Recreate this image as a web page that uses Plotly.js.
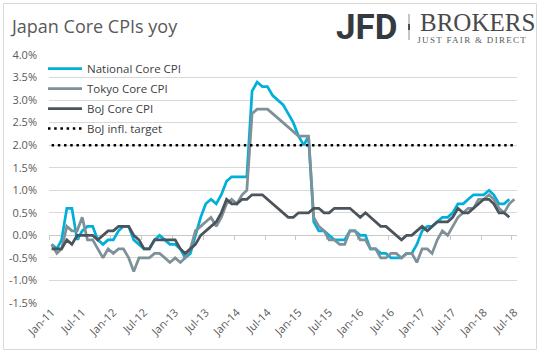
<!DOCTYPE html>
<html>
<head>
<meta charset="utf-8">
<script src="https://cdn.plot.ly/plotly-3.0.1.min.js"></script>
<style>
  html, body { margin: 0; padding: 0; background: #fff; }
  #chart { width: 543px; height: 352px; }
  g.annotation[data-index="3"] text { letter-spacing: 1.3px; }
</style>
</head>
<body>
<div id="chart"></div>
<script>
// ---- data (monthly, yoy %) ----
const firstMonth = { year: 2011, month: 1 };
const nationalCore = [
  -0.2, -0.3, -0.1, 0.6, 0.6, -0.1, 0.1, 0.2, 0.2, -0.1, -0.2, -0.1,
  -0.1, 0.1, 0.2, 0.2, -0.1, -0.2, -0.3, -0.3, -0.1, 0.0, -0.1, -0.2,
  -0.2, -0.3, -0.5, -0.4, 0.0, 0.4, 0.7, 0.8, 0.7, 0.9, 1.2, 1.3,
  1.3, 1.3, 1.3, 3.2, 3.4, 3.3, 3.3, 3.1, 3.0, 2.9, 2.7, 2.5,
  2.2, 2.0, 2.2, 0.3, 0.1, 0.1, 0.0, -0.1, -0.1, -0.1, 0.1, 0.1,
  0.0, 0.0, -0.3, -0.3, -0.4, -0.4, -0.5, -0.5, -0.5, -0.4, -0.4, -0.2,
  0.1, 0.2, 0.2, 0.3, 0.4, 0.4, 0.5, 0.7, 0.7, 0.8, 0.9, 0.9,
  0.9, 1.0, 0.9, 0.7, 0.7, 0.8
];
const tokyoCore = [
  -0.2, -0.4, -0.3, 0.2, 0.1, 0.1, 0.4, -0.1, -0.1, -0.3, -0.5, -0.3,
  -0.4, -0.3, -0.3, -0.5, -0.8, -0.5, -0.5, -0.5, -0.4, -0.4, -0.5, -0.6,
  -0.5, -0.6, -0.5, -0.3, 0.1, 0.2, 0.3, 0.4, 0.2, 0.4, 0.7, 0.8,
  0.7, 0.9, 1.0, 2.7, 2.8, 2.8, 2.8, 2.7, 2.6, 2.5, 2.4, 2.3,
  2.2, 2.2, 2.2, 0.4, 0.2, 0.1, -0.1, -0.1, -0.2, -0.2, 0.1, 0.1,
  -0.1, -0.1, -0.3, -0.3, -0.5, -0.5, -0.4, -0.4, -0.5, -0.4, -0.4, -0.6,
  -0.3, -0.3, -0.4, -0.1, 0.1, 0.0, 0.2, 0.4, 0.5, 0.6, 0.6, 0.8,
  0.8, 0.9, 0.8, 0.6, 0.5, 0.7, 0.8
];
const bojCore = [
  -0.3, -0.3, -0.3, -0.1, -0.2, 0.0, 0.0, 0.0, 0.0, -0.1, 0.0, 0.1,
  0.1, 0.2, 0.2, 0.2, 0.0, -0.1, -0.3, -0.3, -0.1, -0.1, -0.1, -0.1,
  -0.1, -0.3, -0.4, -0.3, -0.2, 0.0, 0.1, 0.2, 0.3, 0.5, 0.8, 0.7,
  0.7, 0.8, 0.8, 0.9, 0.9, 0.9, 0.8, 0.7, 0.6, 0.5, 0.4, 0.4,
  0.5, 0.5, 0.5, 0.6, 0.6, 0.5, 0.5, 0.6, 0.6, 0.6, 0.6, 0.5,
  0.4, 0.5, 0.4, 0.3, 0.2, 0.2, 0.1, 0.0, -0.1, 0.0, 0.0, 0.1,
  0.2, 0.1, 0.2, 0.3, 0.3, 0.3, 0.4, 0.6, 0.5, 0.5, 0.6, 0.7,
  0.8, 0.8, 0.7, 0.5, 0.5, 0.4
];
const bojTarget = [2.0, 2.0];
const seriesNames = ['National Core CPI', 'Tokyo Core CPI', 'BoJ Core CPI', 'BoJ infl. target'];
const xTickLabels = ['Jan-11','Jul-11','Jan-12','Jul-12','Jan-13','Jul-13','Jan-14','Jul-14',
                     'Jan-15','Jul-15','Jan-16','Jul-16','Jan-17','Jul-17','Jan-18','Jul-18'];
const yTickValues = [-1.5, -1.0, -0.5, 0.0, 0.5, 1.0, 1.5, 2.0, 2.5, 3.0, 3.5, 4.0];
const yTickLabels = ['-1.5%','-1.0%','-0.5%','0.0%','0.5%','1.0%','1.5%','2.0%','2.5%','3.0%','3.5%','4.0%'];

// ---- month dates ----
function monthDates(n) {
  const out = [];
  for (let k = 0; k < n; k++) {
    const y = firstMonth.year + Math.floor((firstMonth.month - 1 + k) / 12);
    const m = (firstMonth.month - 1 + k) % 12 + 1;
    out.push(y + '-' + String(m).padStart(2, '0') + '-01');
  }
  return out;
}
const months = monthDates(tokyoCore.length);
const xTickVals = xTickLabels.map((_, i) => months[i * 6]);
const xRange = ['2010-12-16 12:00', '2018-07-16 12:00'];

// ---- layout helpers (pixel -> paper) ----
const PL = 49, PR = 517, PT = 55, PB = 303;
const px = v => (v - PL) / (PR - PL);
const py = v => (PB - v) / (PB - PT);

const colors = { national: '#00AFDA', tokyo: '#7F9198', boj: '#4B535B' };

const traces = [
  { x: months.slice(0, nationalCore.length), y: nationalCore, name: seriesNames[0], legendgroup: 'a',
    type: 'scatter', mode: 'lines', line: { color: colors.national, width: 2.75 } },
  { x: months.slice(0, tokyoCore.length), y: tokyoCore, name: seriesNames[1], legendgroup: 'b',
    type: 'scatter', mode: 'lines', line: { color: colors.tokyo, width: 2.75 } },
  { x: months.slice(0, bojCore.length), y: bojCore, name: seriesNames[2], legendgroup: 'c',
    type: 'scatter', mode: 'lines', line: { color: colors.boj, width: 2.75 } },
  { x: [months[0], months[months.length - 1]], y: bojTarget, name: seriesNames[3], legendgroup: 'd',
    xaxis: 'x2', type: 'scatter', mode: 'lines', line: { color: '#000000', width: 2.5, dash: '2.5px,3.7px' } }
];

const layout = {
  width: 543, height: 352,
  margin: { l: PL, r: 543 - PR, t: PT, b: 352 - PB, autoexpand: false },
  paper_bgcolor: '#ffffff', plot_bgcolor: '#ffffff',
  font: { family: '"Open Sans", sans-serif', size: 11, color: '#595959' },
  title: {
    text: 'Japan Core CPIs yoy',
    font: { family: '"Open Sans", sans-serif', size: 18, color: '#595959' },
    xref: 'container', yref: 'container', x: 12 / 543, xanchor: 'left', y: 1 - 27 / 352, yanchor: 'middle'
  },
  showlegend: true,
  legend: {
    x: px(43), y: py(54), xanchor: 'left', yanchor: 'top', itemwidth: 34,
    bgcolor: 'rgba(0,0,0,0)', borderwidth: 0, tracegroupgap: 1,
    font: { family: '"Open Sans", sans-serif', size: 11.5, color: '#404040' }
  },
  xaxis: {
    type: 'date', range: xRange, tickmode: 'array', tickvals: xTickVals, ticktext: xTickLabels,
    tickangle: -45, showgrid: false, zeroline: false, showline: false, ticks: '',
    tickfont: { size: 11, color: '#595959' }, fixedrange: true
  },
  xaxis2: {
    type: 'date', range: xRange, overlaying: 'x', anchor: 'free', position: (0 - (-1.5)) / 5.5,
    showline: true, linecolor: '#C8C8C8', linewidth: 1, layer: 'below traces',
    ticks: 'outside', ticklen: 4, tickcolor: '#C8C8C8', tickwidth: 1,
    tick0: '2010-12-16 12:00', dtick: 'M6', showticklabels: false, showgrid: false, zeroline: false
  },
  yaxis: {
    range: [-1.5, 4.0], tickmode: 'array', tickvals: yTickValues, ticktext: yTickLabels,
    showgrid: true, gridcolor: '#D9D9D9', gridwidth: 1, zeroline: false, showline: false,
    ticks: '', ticklabelstandoff: 11, tickfont: { size: 11, color: '#595959' }, fixedrange: true
  },
  shapes: [
    { type: 'rect', xref: 'paper', yref: 'paper', x0: px(3.5), x1: px(536.5), y0: py(3.5), y1: py(349.5),
      line: { color: '#D9D9D9', width: 1 }, fillcolor: 'rgba(0,0,0,0)' },
    { type: 'line', xref: 'paper', yref: 'paper', x0: px(409), x1: px(409), y0: py(14), y1: py(40),
      line: { color: '#A0A0A0', width: 1.2 } },
    { type: 'line', xref: 'paper', yref: 'paper', x0: px(409), x1: px(409), y0: py(24), y1: py(30),
      line: { color: '#505050', width: 2 } }
  ],
  annotations: [
    { text: '<b>JFD</b>', xref: 'paper', yref: 'paper', x: px(400), y: py(27), xanchor: 'right', yanchor: 'middle',
      showarrow: false, font: { family: 'Roboto, sans-serif', size: 35, color: '#343A40' } },
    { text: '', xref: 'paper', yref: 'paper', x: 0, y: 0, showarrow: false, visible: false },
    { text: 'BROKERS', xref: 'paper', yref: 'paper', x: px(418), y: py(23), xanchor: 'left', yanchor: 'middle',
      showarrow: false, font: { family: '"Liberation Serif", serif', size: 25, color: '#4A4A4A' } },
    { text: 'JUST FAIR &amp; DIRECT', xref: 'paper', yref: 'paper', x: px(427), y: py(39.5), xanchor: 'left', yanchor: 'middle',
      showarrow: false, font: { family: '"Liberation Serif", serif', size: 9, color: '#5A5A5A' } }
  ]
};

Plotly.newPlot('chart', traces, layout, { displayModeBar: false, staticPlot: true });
</script>
</body>
</html>
